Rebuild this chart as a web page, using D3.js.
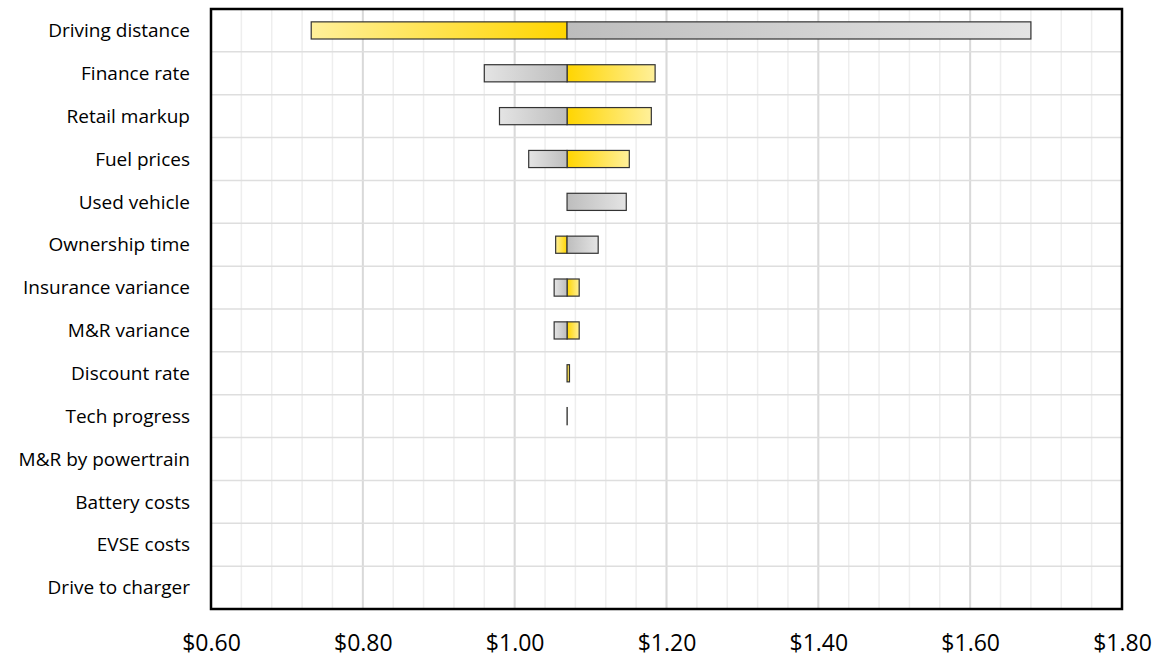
<!DOCTYPE html>
<html>
<head>
<meta charset="utf-8">
<script src="https://cdn.jsdelivr.net/npm/d3@7"></script>
<style>
  html, body { margin: 0; padding: 0; background: #fff; }
  svg { display: block; }
  text { font-family: "Open Sans", "Noto Sans", sans-serif; fill: #000; }
</style>
</head>
<body>
<svg id="chart" width="1160" height="660"></svg>
<script>
// Sensitivity factors, top to bottom
const categories = [
  "Driving distance", "Finance rate", "Retail markup", "Fuel prices",
  "Used vehicle", "Ownership time", "Insurance variance", "M&R variance",
  "Discount rate", "Tech progress", "M&R by powertrain", "Battery costs",
  "EVSE costs", "Drive to charger"
];

// Baseline cost per mile ($)
const baseValue = 1.069;

// Cost per mile under each scenario ($)
const yellowValues = [0.732, 1.185, 1.180, 1.151, 1.069, 1.054, 1.085, 1.085, 1.0722, 1.0692, 1.069, 1.069, 1.069, 1.069];
const grayValues   = [1.680, 0.960, 0.980, 1.0185, 1.147, 1.110, 1.052, 1.052, 1.069, 1.069, 1.069, 1.069, 1.069, 1.069];

// Axis ticks ($)
const tickValues = [0.60, 0.80, 1.00, 1.20, 1.40, 1.60, 1.80];
const minorStep = 0.04;

const svg = d3.select("#chart");
const margin = { left: 211, right: 38, top: 9, bottom: 51 };
const width = 1160 - margin.left - margin.right;
const height = 660 - margin.top - margin.bottom;

const x = d3.scaleLinear().domain([0.6, 1.8]).range([margin.left, margin.left + width]);
const y = d3.scaleBand().domain(categories).range([margin.top, margin.top + height]).paddingInner(0).paddingOuter(0);

// Gradients: darkest at the baseline, fading toward the bar's far end
const defs = svg.append("defs");
function grad(id, dark, light, toRight) {
  const g = defs.append("linearGradient").attr("id", id)
    .attr("x1", "0").attr("x2", "1").attr("y1", "0").attr("y2", "0");
  g.append("stop").attr("offset", "0").attr("stop-color", toRight ? dark : light);
  g.append("stop").attr("offset", "1").attr("stop-color", toRight ? light : dark);
}
grad("yellowRight", "#FFD500", "#FFF09A", true);
grad("yellowLeft",  "#FFD500", "#FFF09A", false);
grad("grayRight",   "#BDBDBD", "#E4E4E4", true);
grad("grayLeft",    "#BDBDBD", "#E4E4E4", false);

// Grid
const grid = svg.append("g");
const minorTicks = d3.range(0.6, 1.8 + 1e-9, minorStep);
grid.selectAll("line.minor").data(minorTicks).join("line")
  .attr("x1", d => x(d)).attr("x2", d => x(d))
  .attr("y1", margin.top).attr("y2", margin.top + height)
  .attr("stroke", "#EEEEEE").attr("stroke-width", 1.5);
grid.selectAll("line.major").data(tickValues).join("line")
  .attr("x1", d => x(d)).attr("x2", d => x(d))
  .attr("y1", margin.top).attr("y2", margin.top + height)
  .attr("stroke", "#D9D9D9").attr("stroke-width", 2);
grid.selectAll("line.row").data(categories.slice(1)).join("line")
  .attr("x1", margin.left).attr("x2", margin.left + width)
  .attr("y1", d => y(d)).attr("y2", d => y(d))
  .attr("stroke", "#DEDEDE").attr("stroke-width", 1.5);

// Bars
const barH = y.bandwidth() * 0.4;
const segs = [];
categories.forEach((c, i) => {
  segs.push({ cat: c, v: yellowValues[i], color: "yellow" });
  segs.push({ cat: c, v: grayValues[i], color: "gray" });
});
svg.append("g").selectAll("rect").data(segs.filter(d => d.v !== baseValue)).join("rect")
  .attr("x", d => x(Math.min(d.v, baseValue)))
  .attr("width", d => Math.abs(x(d.v) - x(baseValue)))
  .attr("y", d => y(d.cat) + (y.bandwidth() - barH) / 2)
  .attr("height", barH)
  .attr("fill", d => `url(#${d.color}${d.v > baseValue ? "Right" : "Left"})`)
  .attr("stroke", "#333333").attr("stroke-width", 1.2);

// Frame
svg.append("rect")
  .attr("x", margin.left).attr("y", margin.top)
  .attr("width", width).attr("height", height)
  .attr("fill", "none").attr("stroke", "#000").attr("stroke-width", 2.5);

// Category labels
svg.append("g").selectAll("text").data(categories).join("text")
  .attr("x", 190)
  .attr("y", d => y(d) + y.bandwidth() / 2)
  .attr("dy", "0.35em")
  .attr("text-anchor", "end")
  .style("font-size", "19px")
  .text(d => d);

// Bottom axis
const xAxis = d3.axisBottom(x).tickValues(tickValues).tickSize(0).tickPadding(42)
  .tickFormat(d => "$" + d.toFixed(2));
const ax = svg.append("g").attr("transform", `translate(0,${margin.top + height})`).call(xAxis);
ax.select(".domain").remove();
ax.attr("font-family", null).attr("font-size", null);
ax.selectAll("text").style("font-size", "23px").attr("dy", "0");
</script>
</body>
</html>
